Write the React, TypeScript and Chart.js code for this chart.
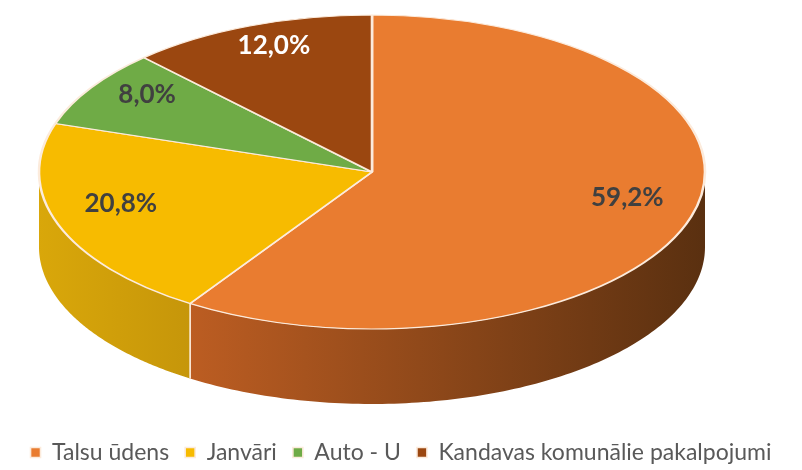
import { useEffect, useRef } from "react";
import { Chart, registerables } from "chart.js";

Chart.register(...registerables);

// ---- data ----
const categories = ["Talsu ūdens", "Janvāri", "Auto - U", "Kandavas komunālie pakalpojumi"];
const shares = [59.2, 20.8, 8.0, 12.0];
const valueLabels = ["59,2%", "20,8%", "8,0%", "12,0%"];

// ---- styles ----
const topColors = ["#E97C30", "#F7BB00", "#6FAB46", "#9B4710"];
const sideLight = ["#BC5D22", "#D9A70A", "#5A8E36", "#7A380C"];
const sideDark = ["#5A3010", "#C6960A", "#4A7A2C", "#5E2A08"];
const labelColors = ["#404040", "#404040", "#404040", "#FFFFFF"];
const rimColor = "#FCEBDC";

// geometry of the drawn ellipse
const CX = 372;
const CY = 172;
const RX = 333;
const RY = 157;
const DEPTH = 75;
const LABEL_FRACTION = 0.8;

const pie3d = {
  id: "pie3d",
  beforeDatasetsDraw(chart: any) {
    const ctx = chart.ctx as CanvasRenderingContext2D;
    const meta = chart.getDatasetMeta(0);
    const arcs = meta.data;
    if (!arcs.length) return;
    arcs.forEach((arc: any, i: number) => {
      const p = arc.getProps(["startAngle", "endAngle"], true);
      for (let k = -1; k <= 1; k++) {
        const s = Math.max(p.startAngle, 2 * Math.PI * k);
        const e = Math.min(p.endAngle, Math.PI + 2 * Math.PI * k);
        if (e <= s) continue;
        const steps = 120;
        ctx.save();
        ctx.beginPath();
        for (let j = 0; j <= steps; j++) {
          const t = s + ((e - s) * j) / steps;
          const x = CX + RX * Math.cos(t);
          const y = CY + RY * Math.sin(t);
          if (j === 0) ctx.moveTo(x, y);
          else ctx.lineTo(x, y);
        }
        for (let j = steps; j >= 0; j--) {
          const t = s + ((e - s) * j) / steps;
          ctx.lineTo(CX + RX * Math.cos(t), CY + RY * Math.sin(t) + DEPTH);
        }
        ctx.closePath();
        const x0 = CX + RX * Math.cos(s);
        const x1 = CX + RX * Math.cos(e);
        const g = ctx.createLinearGradient(Math.min(x0, x1), 0, Math.max(x0, x1), 0);
        g.addColorStop(0, sideLight[i]);
        g.addColorStop(1, sideDark[i]);
        ctx.fillStyle = g;
        ctx.fill();
        ctx.strokeStyle = rimColor;
        ctx.lineWidth = 1.5;
        [s, e].forEach((t) => {
          if (Math.abs(t - 2 * Math.PI * k) < 1e-6 || Math.abs(t - (Math.PI + 2 * Math.PI * k)) < 1e-6) return;
          const x = CX + RX * Math.cos(t);
          const y = CY + RY * Math.sin(t);
          ctx.beginPath();
          ctx.moveTo(x, y);
          ctx.lineTo(x, y + DEPTH);
          ctx.stroke();
        });
        ctx.restore();
      }
    });
    const a0 = arcs[0];
    const R = a0.outerRadius;
    ctx.save();
    ctx.translate(CX, CY);
    ctx.scale(RX / R, RY / R);
    ctx.translate(-a0.x, -a0.y);
  },
  afterDatasetsDraw(chart: any) {
    const ctx = chart.ctx as CanvasRenderingContext2D;
    ctx.restore();
    const meta = chart.getDatasetMeta(0);
    meta.data.forEach((arc: any, i: number) => {
      const p = arc.getProps(["startAngle", "endAngle"], true);
      const mid = (p.startAngle + p.endAngle) / 2;
      const x = CX + RX * LABEL_FRACTION * Math.cos(mid);
      const y = CY + RY * LABEL_FRACTION * Math.sin(mid) - 10;
      ctx.save();
      ctx.font = "bold 26px Lato";
      ctx.fillStyle = labelColors[i];
      ctx.textAlign = "center";
      ctx.textBaseline = "middle";
      ctx.fillText(valueLabels[i], x, y);
      ctx.restore();
    });
  },
};

export default function App() {
  const ref = useRef<HTMLCanvasElement>(null);
  useEffect(() => {
    if (!ref.current) return;
    const chart = new Chart(ref.current, {
      type: "pie",
      data: {
        labels: categories,
        datasets: [
          {
            data: shares,
            backgroundColor: topColors,
            borderColor: rimColor,
            borderWidth: 1.6,
            clip: false as any,
          } as any,
        ],
      },
      options: {
        responsive: false,
        animation: false,
        events: [],
        layout: { padding: { top: 10, bottom: -4, left: 0, right: 0 } },
        plugins: {
          tooltip: { enabled: false },
          legend: {
            position: "bottom",
            labels: {
              boxWidth: 10,
              boxHeight: 10,
              padding: 16,
              color: "#595959",
              font: { family: "Lato", size: 23 },
            },
          },
        },
      },
      plugins: [pie3d],
    });
    return () => chart.destroy();
  }, []);
  return (
    <div style={{ position: "absolute", left: 0, top: 0, width: 802, height: 470, background: "#fff" }}>
      <canvas ref={ref} width={802} height={470} />
    </div>
  );
}
